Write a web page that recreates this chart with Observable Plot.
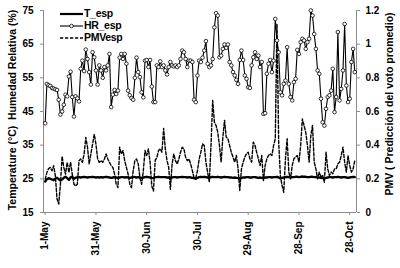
<!DOCTYPE html>
<html>
<head>
<meta charset="utf-8">
<script src="https://cdn.jsdelivr.net/npm/d3@7"></script>
<script src="https://cdn.jsdelivr.net/npm/@observablehq/plot@0.6"></script>
<style>
  html, body { margin: 0; padding: 0; background: #fff; }
  #chart { width: 400px; height: 268px; }
</style>
</head>
<body>
<div id="chart"></div>
<script>
// Daily series, starting 1-May (index = day since 1-May)
const HR_esp = [
  41.5, 53.2, 52.8, 52.6, 52.0, 51.8, 51.6, 51.4, 48.5, 44.1,
  45.0, 47.0, 50.0, 49.5, 55.4, 56.8, 49.3, 43.5, 49.5, 48.9,
  48.0, 57.7, 60.1, 57.0, 63.4, 60.6, 56.7, 53.0, 62.6, 61.1,
  57.2, 53.0, 58.7, 57.2, 55.0, 58.2, 57.2, 58.7, 62.1, 46.3,
  50.0, 51.4, 50.2, 51.2, 61.0, 62.1, 60.6, 62.1, 59.2, 51.2,
  49.8, 49.0, 48.5, 55.0, 61.0, 56.7, 55.2, 50.7, 49.2, 60.1,
  60.3, 58.2, 60.3, 52.4, 47.8, 47.8, 58.7, 58.2, 59.9, 58.2,
  58.7, 57.2, 56.0, 58.2, 59.7, 58.7, 58.4, 58.7, 58.2,
  58.7, 60.6, 63.1, 62.6, 60.6, 58.2, 60.1, 60.1, 59.7, 48.5,
  47.8, 55.7, 60.1, 59.7, 61.0, 63.1, 65.9, 59.2, 58.2, 58.7,
  60.6, 70.0, 74.2, 73.5, 61.1, 61.6, 63.6, 64.9, 63.9, 64.9,
  59.7, 58.7, 56.7, 55.7, 54.4, 53.2, 60.3, 63.1, 60.3, 55.7,
  54.7, 52.2, 52.0, 58.7, 61.1, 62.6, 60.6, 61.6, 58.2,
  59.7, 44.3, 44.5, 56.2, 59.2, 60.3, 56.7, 60.1, 72.5, 66.1,
  62.6, 50.7, 49.8, 53.2, 54.2, 64.1, 53.2, 49.3, 48.3, 53.7,
  54.7, 63.3, 62.1, 65.6, 66.6, 66.1, 63.6, 65.6, 66.6, 75.0,
  73.5, 68.0, 63.6, 57.2, 56.2, 48.8, 41.8, 40.8, 45.8, 49.3,
  49.8, 51.2, 57.7, 44.8, 49.3, 68.6, 48.3, 51.7, 57.2, 71.0,
  52.7, 47.8, 48.8, 59.7, 63.6, 56.7
];
const T_esp = [
  24.2, 24.9, 25.2, 25.0, 24.8, 24.6, 25.1, 25.3, 24.9, 24.5,
  24.8, 25.3, 25.6, 25.2, 24.7, 25.4, 25.6, 25.0, 25.3, 25.5,
  25.5, 25.4, 25.5, 25.6, 25.5, 25.4, 25.5, 25.5, 25.6, 25.5,
  25.4, 25.5, 25.4, 25.5, 25.4, 25.5, 25.6, 25.5, 25.4, 25.3,
  25.4, 25.5, 25.4, 25.3, 25.4, 25.5, 25.5, 25.4, 25.5, 25.4,
  25.3, 25.4, 25.5, 25.5, 25.4, 25.5, 25.4, 25.3, 25.4, 25.5,
  25.6, 25.5, 25.4, 25.2, 25.3, 25.5, 25.5, 25.6, 25.5, 25.5,
  25.5, 25.5, 25.4, 25.4, 25.3, 25.4, 25.5, 25.5, 25.4,
  25.5, 25.5, 25.6, 25.5, 25.5, 25.4, 25.5, 25.4, 25.3, 25.2,
  25.0, 25.3, 25.5, 25.6, 25.5, 25.6, 25.5, 25.4, 25.3, 25.5,
  25.6, 25.5, 25.5, 25.6, 25.5, 25.4, 25.5, 25.6, 25.5, 25.5,
  25.4, 25.4, 25.3, 25.4, 25.3, 25.2, 25.1, 25.3, 25.4, 25.4,
  25.5, 25.5, 25.4, 25.4, 25.5, 25.5, 25.4, 25.3, 25.4,
  25.3, 25.2, 25.4, 25.4, 25.5, 25.5, 25.4, 25.5, 25.5, 25.6,
  25.4, 25.1, 25.3, 25.4, 25.5, 25.6, 25.5, 25.4, 25.5, 25.5,
  25.6, 25.6, 25.5, 25.6, 25.7, 25.6, 25.6, 25.5, 25.5, 25.6,
  25.6, 25.5, 25.5, 25.4, 25.4, 25.3, 25.2, 25.1, 25.3, 25.4,
  25.5, 25.5, 25.4, 25.5, 25.5, 25.6, 25.5, 25.4, 25.5, 25.5,
  25.4, 25.3, 25.4, 25.5, 25.6, 25.5
];
const PMVesp = [
  0.198, 0.238, 0.260, 0.268, 0.248, 0.278, 0.218, 0.080, 0.050, 0.168,
  0.334, 0.268, 0.228, 0.298, 0.238, 0.298, 0.228, 0.168, 0.158, 0.168,
  0.308, 0.318, 0.298, 0.348, 0.446, 0.388, 0.288, 0.348, 0.406, 0.464,
  0.406, 0.318, 0.298, 0.308, 0.298, 0.318, 0.348, 0.318, 0.298, 0.278,
  0.268, 0.228, 0.168, 0.148, 0.388, 0.348, 0.368, 0.308, 0.268, 0.228,
  0.168, 0.148, 0.248, 0.308, 0.318, 0.288, 0.206, 0.168, 0.248, 0.368,
  0.338, 0.378, 0.298, 0.158, 0.128, 0.308, 0.328, 0.368, 0.378, 0.358,
  0.500, 0.378, 0.308, 0.268, 0.138, 0.288, 0.348, 0.308, 0.288,
  0.318, 0.358, 0.388, 0.378, 0.328, 0.308, 0.318, 0.288, 0.248, 0.206,
  0.206, 0.248, 0.318, 0.358, 0.408, 0.398, 0.299, 0.240, 0.180, 0.398,
  0.665, 0.537, 0.517, 0.477, 0.398, 0.299, 0.448, 0.547, 0.448, 0.438,
  0.398, 0.358, 0.329, 0.299, 0.339, 0.259, 0.131, 0.259, 0.299, 0.329,
  0.349, 0.358, 0.319, 0.299, 0.418, 0.398, 0.358, 0.319, 0.279,
  0.339, 0.190, 0.279, 0.319, 0.339, 0.349, 0.339, 0.398, 0.438, 1.120,
  0.418, 0.220, 0.160, 0.120, 0.319, 0.438, 0.240, 0.200, 0.279, 0.319,
  0.329, 0.339, 0.299, 0.398, 0.556, 0.517, 0.477, 0.398, 0.299, 0.457,
  0.517, 0.299, 0.259, 0.200, 0.240, 0.210, 0.220, 0.180, 0.358, 0.259,
  0.220, 0.240, 0.230, 0.259, 0.259, 0.289, 0.299, 0.339, 0.388, 0.299,
  0.240, 0.339, 0.279, 0.240, 0.259, 0.309
];

const tickDays   = [0, 30, 60, 90, 120, 150, 180];
const tickLabels = ["1-May", "31-May", "30-Jun", "30-Jul", "29-Aug", "28-Sep", "28-Oct"];
const leftTicks  = [15, 25, 35, 45, 55, 65, 75];
const rightTicks = [0, 0.2, 0.4, 0.6, 0.8, 1, 1.2];
const seriesNames = ["T_esp", "HR_esp", "PMVesp"];
const leftTitle  = "Temperature (°C)  Humedad Relativa (%)";
const rightTitle = "PMV ( Predicción del voto promedio)";

// PMV (right axis 0–1.2) shares the left scale 15–75
const pmvToLeft = p => 15 + p * 50;

const data = HR_esp.map((hr, i) => ({day: i, hr, t: T_esp[i], pmv: pmvToLeft(PMVesp[i])}));

const xDomain = [-1, 184];
const font = "Liberation Sans, Arial, sans-serif";
const axisGray = "#8c8c8c";
const dash = "3.2,1.8";

const chart = Plot.plot({
  width: 400,
  height: 268,
  marginLeft: 43,
  marginRight: 44,
  marginTop: 10,
  marginBottom: 56,
  style: {fontFamily: font, fontSize: "10px", fontWeight: "bold", color: "#000", background: "#fff"},
  x: {domain: xDomain},
  y: {domain: [15, 75]},
  marks: [
    Plot.ruleX([xDomain[0]], {stroke: axisGray, strokeWidth: 1}),
    Plot.ruleX([xDomain[1]], {stroke: axisGray, strokeWidth: 1}),
    Plot.ruleY([15], {stroke: axisGray, strokeWidth: 1}),
    Plot.axisY({ticks: leftTicks, tickSize: 3, tickPadding: 7, label: null, stroke: axisGray, fill: "#000"}),
    Plot.axisY({anchor: "right", ticks: leftTicks, tickSize: 3, tickPadding: 6, label: null, stroke: axisGray, fill: "#000",
      tickFormat: v => String(rightTicks[leftTicks.indexOf(v)])}),
    Plot.axisX({ticks: tickDays, tickSize: 3, tickPadding: 6, tickRotate: -90, label: null, stroke: axisGray, fill: "#000",
      tickFormat: d => tickLabels[tickDays.indexOf(d)]}),
    Plot.line(data, {x: "day", y: "pmv", stroke: "#000", strokeWidth: 1.4, strokeDasharray: dash}),
    Plot.line(data, {x: "day", y: "t", stroke: "#000", strokeWidth: 2.4}),
    Plot.line(data, {x: "day", y: "hr", stroke: "#000", strokeWidth: 1.1}),
    Plot.dot(data, {x: "day", y: "hr", r: 1.8, fill: "#fff", stroke: "#000", strokeWidth: 0.8})
  ]
});

document.getElementById("chart").appendChild(chart);

const svg = d3.select(chart);
// Axis titles
svg.append("text")
  .attr("transform", "translate(13,110) rotate(-90)")
  .attr("text-anchor", "middle").attr("dominant-baseline", "middle")
  .attr("font-family", font).attr("font-size", "10.5px").attr("font-weight", "bold")
  .attr("fill", "#000").text(leftTitle);
svg.append("text")
  .attr("transform", "translate(390,104) rotate(-90)")
  .attr("text-anchor", "middle").attr("dominant-baseline", "middle")
  .attr("font-family", font).attr("font-size", "10.5px").attr("font-weight", "bold")
  .attr("fill", "#000").text(rightTitle);

// Legend
const lg = svg.append("g").attr("transform", "translate(60,14)");
seriesNames.forEach((name, i) => {
  const g = lg.append("g").attr("transform", `translate(0,${i * 12})`);
  const line = g.append("line").attr("x1", 0).attr("x2", 23).attr("y1", 0).attr("y2", 0).attr("stroke", "#000");
  if (i === 0) line.attr("stroke-width", 2.2);
  if (i === 1) {
    line.attr("stroke-width", 1.1);
    g.append("circle").attr("cx", 11.5).attr("cy", 0).attr("r", 1.8).attr("fill", "#fff").attr("stroke", "#000").attr("stroke-width", 0.8);
  }
  if (i === 2) line.attr("stroke-width", 1.4).attr("stroke-dasharray", dash);
  g.append("text").attr("x", 24).attr("y", 0.5).attr("text-anchor", "start").attr("dominant-baseline", "middle")
    .attr("font-family", font).attr("font-size", "10.5px").attr("font-weight", "bold")
    .attr("letter-spacing", "-0.3px").attr("fill", "#000").text(name);
});
</script>
</body>
</html>
